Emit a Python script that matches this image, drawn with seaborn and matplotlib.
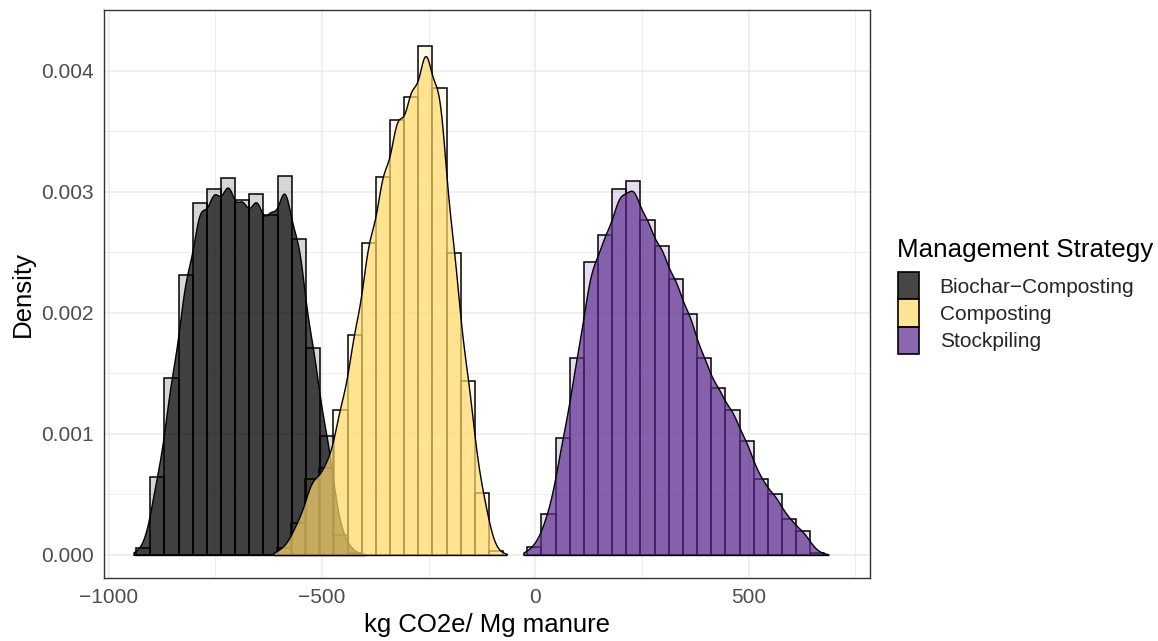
import numpy as np
import pandas as pd
import matplotlib
matplotlib.use("Agg")
import matplotlib.pyplot as plt
import seaborn as sns
from matplotlib.patches import Patch
from matplotlib.ticker import MultipleLocator

# ---------------- data ----------------
groups = ["Biochar\u2212Composting", "Composting", "Stockpiling"]
fill_colors = ["#000000", "#FFDA6D", "#5E2D8F"]

bin_width = 33.15
biochar_start = -935.8
biochar_density = [0.000060, 0.00064, 0.00146, 0.00231, 0.00291, 0.00302, 0.00311,
                   0.00293, 0.00298, 0.00281, 0.00313, 0.00261, 0.00171, 0.00098,
                   0.000165, 0.00002]
composting_start = -606.1
composting_density = [0.00006, 0.000267, 0.00063, 0.00072, 0.00120, 0.00182, 0.00258,
                      0.00312, 0.00359, 0.00378, 0.00420, 0.00386, 0.00249, 0.00144,
                      0.00051, 0.00003]
stockpiling_start = -19.0
stockpiling_density = [0.000069, 0.000336, 0.00097, 0.00163, 0.00242, 0.00264, 0.00302,
                       0.00309, 0.00277, 0.00255, 0.00228, 0.00199, 0.00163, 0.00138,
                       0.00120, 0.00094, 0.00063, 0.00050, 0.00030, 0.00020, 0.00002]
# smoothing bandwidth of each density curve (x units)
kde_bandwidth = [17.5, 17.5, 19.0]

x_ticks = [-1000, -500, 0, 500]
y_ticks = [0.000, 0.001, 0.002, 0.003, 0.004]

starts = [biochar_start, composting_start, stockpiling_start]
dens = [biochar_density, composting_density, stockpiling_density]

rows = []
for g, s, d in zip(groups, starts, dens):
    for i, v in enumerate(d):
        rows.append({"group": g, "center": s + (i + 0.5) * bin_width, "density": v})
df = pd.DataFrame(rows)

# ---------------- plotting ----------------
sns.set_style("white")
plt.rcParams["font.family"] = ["Liberation Sans", "DejaVu Sans"]

fig = plt.figure(figsize=(11.58, 6.41), dpi=100)
ax = fig.add_axes([104 / 1158, 1 - 578 / 641, (870 - 104) / 1158, (578 - 10) / 641])

# histograms first
for g, c, s, d in zip(groups, fill_colors, starts, dens):
    sub = df[df.group == g]
    edges = [float(s + k * bin_width) for k in range(len(d) + 1)]
    sns.histplot(data=sub, x="center", weights="density", bins=edges, stat="count",
                 color=c, alpha=0.16, edgecolor="black", linewidth=1.1, ax=ax, zorder=2)

# densities on top
for g, c, bwt in zip(groups, fill_colors, kde_bandwidth):
    sub = df[df.group == g]
    sd = float(np.sqrt(np.cov(sub["center"].to_numpy(), aweights=sub["density"].to_numpy())))
    sns.kdeplot(data=sub, x="center", weights="density", bw_method=bwt / sd, cut=0.9,
                gridsize=600, fill=True, color=c, alpha=0.7, edgecolor="black",
                linewidth=1.0, ax=ax, zorder=3)

ax.set_xlim(-1011, 784)
ax.set_ylim(-0.00019, 0.0045)
ax.set_xticks(x_ticks)
ax.set_yticks(y_ticks)
ax.set_yticklabels([f"{v:.3f}" for v in y_ticks])
ax.xaxis.set_minor_locator(MultipleLocator(250))
ax.yaxis.set_minor_locator(MultipleLocator(0.0005))
ax.grid(which="major", color="#EBEBEB", linewidth=1.1, zorder=0)
ax.grid(which="minor", color="#EBEBEB", linewidth=0.6, zorder=0)
ax.set_axisbelow(True)
for sp in ax.spines.values():
    sp.set_color("#333333")
    sp.set_linewidth(1.0)
ax.tick_params(axis="both", which="major", length=4.5, width=1.0, color="#333333",
               labelsize=15, labelcolor="#4D4D4D", pad=3)
ax.tick_params(axis="both", which="minor", length=0)
ax.set_xlabel("kg CO2e/ Mg manure", fontsize=18.5, color="black", labelpad=4)
ax.set_ylabel("Density", fontsize=18.5, color="black", labelpad=4)

fig.text(897 / 1158, 1 - 257 / 641, "Management Strategy", fontsize=18.7,
         color="black", ha="left", va="baseline")
handles = [Patch(facecolor=matplotlib.colors.to_rgba(c, 0.72), edgecolor="black", linewidth=1.2)
           for c in fill_colors]
leg = fig.legend(handles, groups, loc="upper left",
                 bbox_to_anchor=(898 / 1158, 1 - 272 / 641), frameon=False,
                 fontsize=15, handlelength=1.0, handleheight=1.65,
                 labelspacing=0.0, handletextpad=1.0, borderaxespad=0, borderpad=0)

fig.savefig("out.png", dpi=100)
